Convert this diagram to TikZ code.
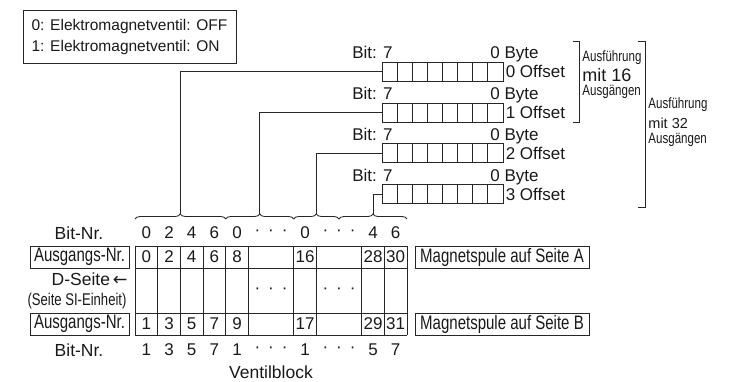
\documentclass[tikz,border=0pt]{standalone}
\usepackage{fontspec}
\setmainfont{Liberation Sans}
\newfontfamily\condfont[FakeStretch=0.77]{Liberation Sans}
\newfontfamily\symfont{DejaVu Sans}
\usetikzlibrary{decorations.pathreplacing}

\tikzset{
  txt/.style={inner sep=0pt,font=\fontsize{17}{17}\selectfont},
  small/.style={inner sep=0pt,anchor=west,font=\condfont\fontsize{15}{15}\selectfont},
  labelbox/.style={draw,inner sep=0pt,minimum height=22,font=\condfont\fontsize{19.5}{19}\selectfont},
  bytebox/.style={draw,inner sep=0pt,minimum width=121,minimum height=19,anchor=north west},
  bytebrace/.style={decorate,decoration={brace,amplitude=5pt}}
}

\begin{document}
\begin{tikzpicture}[x=1pt,y=-1pt,line width=0.85pt,draw=black!85,text=black!90]
\useasboundingbox (0,0) rectangle (742,382);

% legend
\node[draw,align=left,minimum width=213,minimum height=53,font=\fontsize{15.5}{21}\selectfont] (legend) at (129.5,36.5)
  {0: Elektromagnetventil: OFF\\1: Elektromagnetventil: ON};

% byte registers
\foreach \i/\t in {0/62,1/102.7,2/143.4,3/184.1} {
  \node[bytebox] (byte\i) at (382,\t) {};
  \foreach \k in {1,...,7}
    \draw ({382+15.125*\k},\t) -- ++(0,19);
  \node[txt,anchor=base east] (bitl\i) at (393,{\t-3}) {Bit: 7};
  \node[txt,anchor=base west] (bitr\i) at (490,{\t-3}) {0 Byte};
  \node[txt,anchor=west,xshift=1.5] (offs\i) at (byte\i.east) {\i\ Offset};
}

% output ranges
\draw (573,41) -- (579,41) -- (579,122) -- (573,122);
\node[small] (v16a) at (582,58) {Ausführung};
\node[txt,anchor=west,font=\fontsize{18}{18}\selectfont] (v16b) at (582,75) {mit 16};
\node[small] (v16c) at (582,92) {Ausgängen};
\draw (638,41) -- (645,41) -- (645,207) -- (638,207);
\node[small] (v32a) at (648,105) {Ausführung};
\node[txt,anchor=west,font=\fontsize{14.5}{15}\selectfont] (v32b) at (648,123) {mit 32};
\node[small] (v32c) at (648,140) {Ausgängen};

% braces and connectors
\draw[bytebrace] (135,219) -- (225.7,219);
\draw[bytebrace] (225.7,219) -- (293.7,219);
\draw[bytebrace] (293.7,219) -- (339,219);
\draw[bytebrace] (339,219) -- (407,219);
\coordinate (tip0) at (180.3,214);
\coordinate (tip1) at (259.7,214);
\coordinate (tip2) at (316.3,214);
\coordinate (tip3) at (373,214);
\foreach \i in {0,...,3}
  \draw (byte\i.west) -| (tip\i);

% valve block
\foreach \x in {135,157.7,180.3,203,225.7,248.3,293.7,316.3,361.7,384.3,407}
  \draw (\x,246) -- (\x,335);
\foreach \y in {246,268,313,335}
  \draw (135,\y) -- (407,\y);
\foreach \x/\a/\b in {146.3/0/1,169/2/3,191.7/4/5,214.3/6/7,237/8/9,305/16/17,373/28/29,395.7/30/31} {
  \node[txt] (outa\a) at (\x,257) {\a};
  \node[txt] (outb\b) at (\x,324) {\b};
}
\foreach \x/\a/\b [count=\n] in {146.3/0/1,169/2/3,191.7/4/5,214.3/6/7,237/0/1,305/0/1,373/4/5,395.7/6/7} {
  \node[txt] (bta\n) at (\x,233) {\a};
  \node[txt] (btb\n) at (\x,350) {\b};
}
\foreach \x [count=\n] in {271,339} {
  \node[txt] (dota\n) at (\x,233) {·\hspace{8pt}·\hspace{8pt}·};
  \node[txt] (dotm\n) at (\x,291) {·\hspace{8pt}·\hspace{8pt}·};
  \node[txt] (dotb\n) at (\x,350) {·\hspace{8pt}·\hspace{8pt}·};
}

% row labels
\node[txt,font=\fontsize{17.5}{17}\selectfont] (bitnra) at (79,233) {Bit-Nr.};
\node[labelbox,minimum width=99] (outnra) at (79.5,257) {Ausgangs-Nr.};
\node[txt,anchor=east,font=\fontsize{17.5}{17}\selectfont] (dside) at (128,279) {D-Seite\,{\symfont←}};
\node[txt,font=\condfont\fontsize{17}{17}\selectfont] (siunit) at (77,301) {(Seite SI-Einheit)};
\node[labelbox,minimum width=99] (outnrb) at (79.5,324) {Ausgangs-Nr.};
\node[txt,font=\fontsize{17.5}{17}\selectfont] (bitnrb) at (79,350) {Bit-Nr.};
\node[labelbox,minimum width=174] (coila) at (502,257) {Magnetspule auf Seite A};
\node[labelbox,minimum width=174] (coilb) at (502,324) {Magnetspule auf Seite B};
\node[txt,font=\fontsize{17.5}{17}\selectfont] (block) at (271,372) {Ventilblock};
\end{tikzpicture}
\end{document}
